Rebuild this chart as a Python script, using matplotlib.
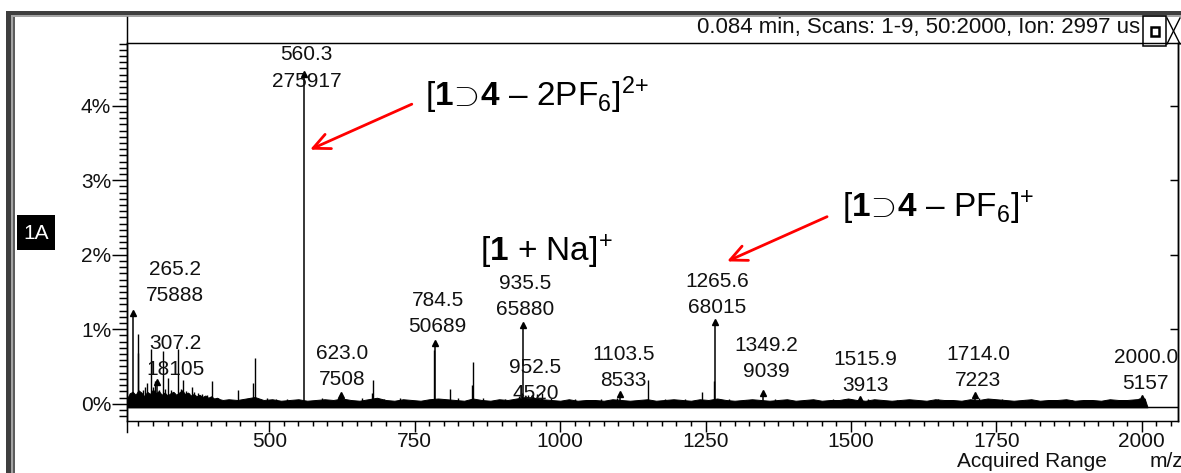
import matplotlib
matplotlib.use("Agg")
import matplotlib.pyplot as plt
from matplotlib.ticker import MultipleLocator, FixedLocator, FuncFormatter
from matplotlib.patches import Rectangle

plt.rcParams['font.family'] = ['Liberation Sans', 'DejaVu Sans']
plt.rcParams['mathtext.fontset'] = 'custom'
plt.rcParams['mathtext.rm'] = 'Liberation Sans'
plt.rcParams['mathtext.bf'] = 'Liberation Sans:bold'
plt.rcParams['mathtext.it'] = 'Liberation Sans:italic'
plt.rcParams['mathtext.fallback'] = 'cm'

# ---------------- spectrum data ----------------
# labelled peaks: m/z and absolute counts
peak_mz = [265.2, 307.2, 560.3, 623.0, 784.5, 935.5, 952.5, 1103.5,
           1265.6, 1349.2, 1515.9, 1714.0, 2000.0]
peak_counts = [75888, 18105, 275917, 7508, 50689, 65880, 4520, 8533,
               68015, 9039, 3913, 7223, 5157]

# total ion count used for the % scale
total_counts = 6.24e6

# unlabelled peaks (m/z, relative abundance in %)
minor_mz = [268.0, 273.5, 274.8, 279.5, 283.0, 286.3, 290.0, 296.3, 300.5, 303.0,
            311.0, 317.8, 321.0, 326.4, 331.0, 336.0, 343.6, 348.0, 352.0, 357.0,
            362.0, 366.6, 371.0, 378.0, 385.0, 392.0, 401.0, 411.0, 446.7, 472.5,
            475.4, 496.0, 512.0, 530.0, 547.0, 590.0, 618.0, 660.0, 676.0, 678.8,
            697.0, 725.0, 783.3, 810.7, 825.0, 848.8, 850.7, 868.0, 905.0, 930.0,
            934.0, 944.0, 960.0, 968.0, 985.0, 1025.0, 1070.0, 1098.0, 1151.6, 1180.0,
            1215.0, 1243.4, 1264.0, 1290.0, 1320.0, 1370.0, 1420.0, 1470.0, 1530.0, 1580.0,
            1650.0, 1720.0, 1760.0, 1800.0, 1880.0, 1940.0, 1996.0]
minor_pct = [0.10, 0.68, 0.94, 0.14, 0.18, 0.22, 0.28, 0.73, 0.22, 0.30,
             0.18, 0.71, 0.20, 0.34, 0.18, 0.15, 0.73, 0.20, 0.32, 0.17,
             0.14, 0.22, 0.16, 0.14, 0.13, 0.12, 0.30, 0.07, 0.19, 0.28,
             0.62, 0.07, 0.06, 0.06, 0.05, 0.07, 0.08, 0.07, 0.14, 0.32,
             0.06, 0.07, 0.72, 0.20, 0.07, 0.25, 0.56, 0.07, 0.06, 0.10,
             0.15, 0.12, 0.13, 0.15, 0.07, 0.06, 0.06, 0.08, 0.32, 0.06,
             0.06, 0.16, 0.30, 0.06, 0.05, 0.06, 0.05, 0.06, 0.06, 0.05,
             0.06, 0.08, 0.06, 0.05, 0.05, 0.05, 0.08]

# chemical-noise floor (m/z, %)
floor_mz = [255, 260, 265, 270, 275, 280, 285, 290, 295, 300, 305, 310, 315, 320,
            325, 330, 335, 340, 345, 350, 355, 360, 365, 370, 375, 380, 385, 390,
            395, 400, 405, 410, 415, 420,
            430, 445, 460, 475, 490, 505, 520, 535, 550, 565, 580, 595,
            610, 625, 640, 655, 670, 685, 700, 715, 730, 745, 760, 775, 790,
            805, 820, 835, 850, 865, 880, 895, 910, 925, 940, 955, 970, 985, 1000,
            1015, 1030, 1045, 1060, 1075, 1090, 1105, 1120, 1135, 1150, 1165, 1180, 1195,
            1210, 1225, 1240, 1255, 1270, 1285, 1300, 1315, 1330, 1345, 1360, 1375, 1390,
            1405, 1420, 1435, 1450, 1465, 1480, 1495, 1510, 1525, 1540, 1555, 1570, 1585, 1600,
            1615, 1630, 1645, 1660, 1675, 1690, 1705, 1720, 1735, 1750, 1765, 1780, 1795,
            1810, 1825, 1840, 1855, 1870, 1885, 1900, 1915, 1930, 1945, 1960, 1975, 1990, 2005,
            2010]
floor_pct = [0.06, 0.14, 0.16, 0.12, 0.18, 0.15, 0.10, 0.16, 0.13, 0.19, 0.14, 0.17, 0.12, 0.15,
             0.11, 0.14, 0.16, 0.12, 0.15, 0.18, 0.13, 0.15, 0.11, 0.13, 0.10, 0.12, 0.09, 0.11,
             0.08, 0.10, 0.07, 0.08, 0.06, 0.05,
             0.06, 0.05, 0.07, 0.09, 0.05, 0.06, 0.04, 0.05, 0.06, 0.04, 0.05, 0.06,
             0.05, 0.07, 0.05, 0.04, 0.06, 0.08, 0.05, 0.04, 0.06, 0.05, 0.04, 0.06, 0.07,
             0.06, 0.05, 0.04, 0.07, 0.05, 0.04, 0.06, 0.05, 0.07, 0.09, 0.08, 0.06, 0.05, 0.04,
             0.06, 0.04, 0.05, 0.05, 0.04, 0.06, 0.05, 0.04, 0.05, 0.06, 0.04, 0.05, 0.06,
             0.05, 0.04, 0.06, 0.05, 0.07, 0.05, 0.04, 0.05, 0.06, 0.05, 0.04, 0.05, 0.06,
             0.04, 0.05, 0.06, 0.04, 0.05, 0.05, 0.07, 0.05, 0.04, 0.06, 0.05, 0.04, 0.05, 0.06,
             0.05, 0.04, 0.06, 0.05, 0.05, 0.04, 0.06, 0.05, 0.07, 0.06, 0.05, 0.04, 0.05,
             0.06, 0.04, 0.05, 0.05, 0.06, 0.04, 0.05, 0.05, 0.04, 0.06, 0.05, 0.05, 0.06, 0.07,
             -0.048]

x_major = [500, 750, 1000, 1250, 1500, 1750, 2000]
y_major = [0, 1, 2, 3, 4]

header_text = "0.084 min, Scans: 1-9, 50:2000, Ion: 2997 us"
trace_tag = "1A"

ion_labels = [
    (r"[$\mathbf{1}\!\supset\!\mathbf{4}$ – 2PF$_6$]$^{2\!+}$", 767.7, 4.00),
    (r"[$\mathbf{1}\!\supset\!\mathbf{4}$ – PF$_6$]$^{+}$", 1485.0, 2.50),
    (r"[$\mathbf{1}$ + Na]$^{+}$", 862.0, 1.91),
]
# red arrows: (tail m/z, tail %, head m/z, head %)
ion_arrows = [
    (745.0, 4.02, 570.0, 3.41),
    (1459.0, 2.51, 1287.0, 1.91),
]

# ---------------- layout ----------------
W, H = 1181, 473
PX = 0.72  # points per pixel at 100 dpi
fig = plt.figure(figsize=(W / 100, H / 100), dpi=100)
fig.patch.set_facecolor('white')

ax_l, ax_r, ax_t, ax_b = 127, 1178, 43, 421
ax = fig.add_axes([ax_l / W, 1 - ax_b / H, (ax_r - ax_l) / W, (ax_b - ax_t) / H])
ax.patch.set_alpha(0)

xlo, xhi = 255.3, 2062.4
ylo, yhi = -0.232, 4.841
base = -0.048
ax.set_xlim(xlo, xhi)
ax.set_ylim(ylo, yhi)

LW = 1.05
FS = 15

# noise floor band
ax.fill_between(floor_mz, base, floor_pct, color='black', lw=0.7)
ax.axhline(base, color='black', lw=LW)

# unlabelled peaks
ax.vlines(minor_mz, base, minor_pct, color='black', lw=1.0)

# labelled peaks
peak_pct = [c / total_counts * 100 for c in peak_counts]
ax.vlines(peak_mz, base, peak_pct, color='black', lw=1.1)
ax.plot(peak_mz, peak_pct, ls='none', marker='^', ms=4.5, color='black')

label_dx = {265.2: 42, 307.2: 18, 560.3: 2, 623.0: 1, 1515.9: 5, 2000.0: 4}
label_gap = {265.2: 12, 307.2: 7, 623.0: 10, 784.5: 12, 935.5: 10, 952.5: 0,
             1103.5: 8, 1265.6: 10, 1349.2: 16, 1515.9: 8, 1714.0: 9, 2000.0: 9}
pinned_top = {560.3}
descent_px = 4.4
for mz, cnt, pct in zip(peak_mz, peak_counts, peak_pct):
    txt = f"{mz:.1f}\n{cnt}"
    dx = label_dx.get(mz, 3)
    if mz in pinned_top:
        ax.annotate(txt, xy=(mz, yhi), xytext=(dx * PX, -2.5 * PX),
                    textcoords='offset points', ha='center', va='top',
                    fontsize=FS, linespacing=1.47, color='#111111')
    else:
        gap = label_gap.get(mz, 8) - descent_px
        ax.annotate(txt, xy=(mz, pct), xytext=(dx * PX, gap * PX),
                    textcoords='offset points', ha='center', va='bottom',
                    fontsize=FS, linespacing=1.47, color='#111111')

# ion assignments
for txt, x, y in ion_labels:
    ax.text(x, y, txt, fontsize=24, ha='left', va='baseline', color='black')
for x0, y0, x1, y1 in ion_arrows:
    ax.annotate('', xy=(x1, y1), xytext=(x0, y0),
                arrowprops=dict(arrowstyle='->,head_length=0.6,head_width=0.28',
                                color='#ff0000', lw=2.0, mutation_scale=20,
                                shrinkA=0, shrinkB=0))

# axes styling
for side in ('left', 'bottom', 'top', 'right'):
    ax.spines[side].set_linewidth(LW)
    ax.spines[side].set_color('black')

ax.xaxis.set_major_locator(FixedLocator(x_major))
ax.xaxis.set_minor_locator(MultipleLocator(25))
ax.yaxis.set_major_locator(FixedLocator(y_major))
ax.yaxis.set_minor_locator(MultipleLocator(1 / 12))
ax.yaxis.set_major_formatter(FuncFormatter(lambda v, p: f"{int(round(v))}%"))
ax.tick_params(axis='x', which='major', direction='out', length=11 * PX, width=LW,
               labelsize=FS, pad=0.3, labelcolor='#111111')
ax.tick_params(axis='x', which='minor', direction='out', length=5 * PX, width=LW)
ax.tick_params(axis='y', which='major', direction='out', length=15 * PX, width=LW,
               labelsize=FS, pad=0.6, labelcolor='#111111')
ax.tick_params(axis='y', which='minor', direction='out', length=8 * PX, width=LW)

# inward ticks on the right frame
axr = ax.twinx()
axr.set_ylim(ylo, yhi)
axr.yaxis.set_major_locator(FixedLocator([1, 2, 3, 4]))
axr.yaxis.set_minor_locator(FixedLocator([]))
axr.tick_params(axis='y', which='major', direction='in', length=8 * PX, width=LW,
                labelright=False)
for side in ('left', 'bottom', 'top'):
    axr.spines[side].set_visible(False)
axr.spines['right'].set_linewidth(LW)

# ---------------- window chrome (pixel coordinates) ----------------
ov = fig.add_axes([0, 0, 1, 1])
ov.set_xlim(0, W)
ov.set_ylim(H, 0)
ov.axis('off')
ov.patch.set_alpha(0)

# outer window frame
ov.add_patch(Rectangle((6, 11), W, 4, color='#3e3e3e', lw=0))
ov.add_patch(Rectangle((6, 11), 4.7, H, color='#3e3e3e', lw=0))
ov.add_patch(Rectangle((10.7, 15), W, 2, color='#a4a4a4', lw=0))
ov.add_patch(Rectangle((10.7, 15), 2, H, color='#a4a4a4', lw=0))
ov.add_patch(Rectangle((12.7, 17), 2.3, H, color='#5c5c5c', lw=0))

# header strip
ov.plot([ax_l, ax_l], [17, 432], color='black', lw=LW)
ov.plot([ax_r, W], [ax_t, ax_t], color='black', lw=LW)
ov.text(1140, 33, header_text, fontsize=16, ha='right', va='baseline', color='#111111')
ov.add_patch(Rectangle((1142.7, 16.5), 23.3, 29.5, fill=False, ec='black', lw=1.1))
ov.add_patch(Rectangle((1150.5, 27.5), 8, 9, fill=False, ec='black', lw=1.8))
ov.plot([1167, 1180], [18, 44], color='black', lw=1.0)
ov.plot([1167, 1180], [44, 18], color='black', lw=1.0)

# trace tag
ov.add_patch(Rectangle((16.7, 215), 38.3, 35, color='black', lw=0))
ov.text(35.8, 233, trace_tag, fontsize=FS, ha='center', va='center', color='white')

# axis caption
ov.text(957, 467, "Acquired Range", fontsize=FS, ha='left', va='baseline', color='#111111')
ov.text(1150, 467, "m/z", fontsize=FS, ha='left', va='baseline', color='#111111')

fig.savefig("out.png", dpi=100, facecolor='white')
